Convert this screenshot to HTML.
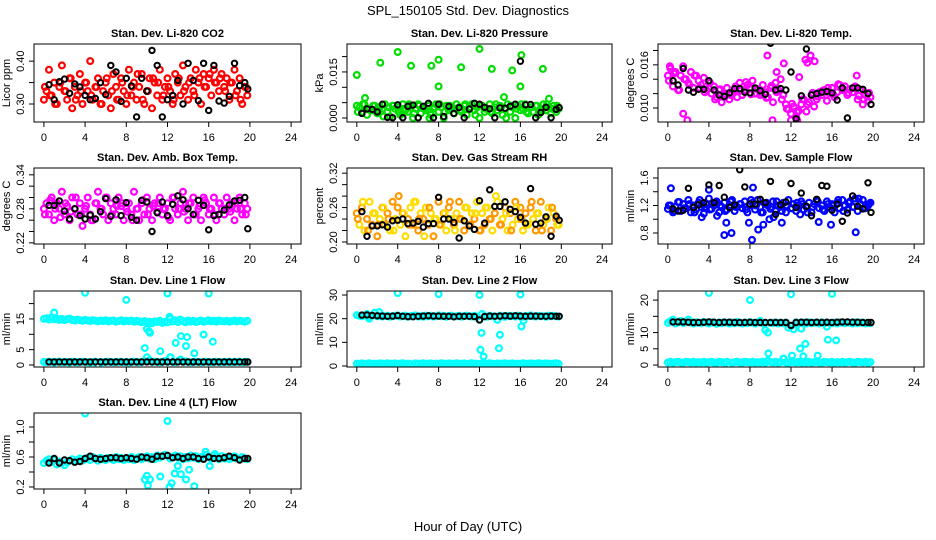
<!DOCTYPE html>
<html><head><meta charset="utf-8"><style>
html,body{margin:0;padding:0;background:#fff;}
svg{display:block;font-family:"Liberation Sans",sans-serif;}
</style></head><body>
<svg id="chart" width="936" height="540" viewBox="0 0 936 540">
<text x="468" y="15" text-anchor="middle" font-size="13">SPL_150105  Std. Dev. Diagnostics</text>
<text x="468" y="531" text-anchor="middle" font-size="13">Hour of Day (UTC)</text>
</svg>
<script>
const xTicks = [0,4,8,12,16,20,24];
const hC = [0,0.25,0.5,0.75,1,1.25,1.5,1.75,2,2.25,2.5,2.75,3,3.25,3.5,3.75,4,4.25,4.5,4.75,5,5.25,5.5,5.75,6,6.25,6.5,6.75,7,7.25,7.5,7.75,8,8.25,8.5,8.75,9,9.25,9.5,9.75,10,10.25,10.5,10.75,11,11.25,11.5,11.75,12,12.25,12.5,12.75,13,13.25,13.5,13.75,14,14.25,14.5,14.75,15,15.25,15.5,15.75,16,16.25,16.5,16.75,17,17.25,17.5,17.75,18,18.25,18.5,18.75,19,19.25,19.5,19.75];
const hC2 = [0.1,0.6,1.1,1.6,2.1,2.6,3.1,3.6,4.1,4.6,5.1,5.6,6.1,6.6,7.1,7.6,8.1,8.6,9.1,9.6,10.1,10.6,11.1,11.6,12.1,12.6,13.1,13.6,14.1,14.6,15.1,15.6,16.1,16.6,17.1,17.6,18.1,18.6,19.1,19.6];
const hB = [0.5,1,1.5,2,2.5,3,3.5,4,4.5,5,5.5,6,6.5,7,7.5,8,8.5,9,9.5,10,10.5,11,11.5,12,12.5,13,13.5,14,14.5,15,15.5,16,16.5,17,17.5,18,18.5,19,19.5,19.8];

const co2Col = [0.31,0.33,0.38,0.32,0.35,0.30,0.34,0.39,0.33,0.31,0.36,0.29,0.34,0.32,0.37,0.30,0.35,0.33,0.40,0.31,0.34,0.36,0.30,0.33,0.35,0.32,0.29,0.37,0.34,0.31,0.36,0.33,0.30,0.38,0.32,0.35,0.31,0.34,0.37,0.30,0.33,0.36,0.29,0.35,0.32,0.38,0.31,0.34,0.36,0.33,0.30,0.37,0.35,0.32,0.39,0.34,0.31,0.36,0.33,0.38,0.35,0.30,0.37,0.34,0.36,0.32,0.38,0.35,0.33,0.37,0.34,0.36,0.31,0.35,0.38,0.33,0.36,0.30,0.34,0.32];
const co2Col2 = [0.34,0.32,0.30,0.35,0.33,0.36,0.31,0.33,0.35,0.32,0.34,0.30,0.36,0.33,0.31,0.35,0.32,0.34,0.37,0.31,0.33,0.36,0.35,0.32,0.34,0.31,0.36,0.33,0.35,0.32,0.36,0.34,0.37,0.35,0.36,0.33,0.35,0.32,0.31,0.34];
const co2Blk = [0.345,0.31,0.352,0.358,0.325,0.347,0.34,0.32,0.31,0.313,0.35,0.322,0.39,0.375,0.306,0.36,0.342,0.27,0.36,0.33,0.425,0.39,0.27,0.31,0.32,0.355,0.30,0.395,0.355,0.308,0.395,0.285,0.39,0.307,0.302,0.318,0.395,0.343,0.35,0.335];

const prCol = [0.004,0.0035,0.002,0.0045,0.001,0.003,0.0025,0.004,0.0015,0.0035,0.003,0.0045,0.002,0.0005,0.004,0.003,0.0035,0.001,0.0045,0.0025,0.002,0.004,0.0,0.003,0.0045,0.0015,0.0035,0.0025,0.004,0.001,0.003,0.0045,0.002,0.0035,0.0,0.004,0.0025,0.003,0.0015,0.0045,0.0035,0.002,0.004,0.001,0.003,0.0045,0.0025,0.0035,0.0,0.004,0.002,0.003,0.0045,0.0015,0.0035,0.0025,0.004,0.001,0.003,0.0045,0.002,0.0035,0.0,0.004,0.0025,0.003,0.0045,0.0015,0.0035,0.002,0.004,0.001,0.003,0.0045,0.0025,0.0035,0.0015,0.004,0.002,0.003];
const prCol2 = [0.002,0.0045,0.003,0.004,0.0025,0.0005,0.0035,0.004,0.002,0.003,0.0045,0.0015,0.004,0.003,0.0,0.0035,0.0045,0.002,0.004,0.003,0.0025,0.0045,0.0035,0.001,0.004,0.003,0.002,0.0045,0.0035,0.0,0.004,0.003,0.0045,0.002,0.0035,0.004,0.0025,0.0045,0.003,0.004];
const prOutX = [0,2.3,4,5.3,7.3,8,10.2,12,13.2,15.2,16.1,18.2,16,8,0.8,14.4,18.8];
const prOutY = [0.014,0.018,0.0215,0.017,0.017,0.019,0.0165,0.0225,0.016,0.0155,0.0205,0.016,0.0103,0.0103,0.0065,0.0068,0.0063];
const prBlk = [0.0015,0.003,0.0028,0.002,0.0045,0.0002,0.0001,0.0043,0.0001,0.0038,0.0042,0.0001,0.0038,0.0048,0.0001,0.0045,0.0005,0.0038,0.0015,0.0034,0.0001,0.0029,0.0048,0.0045,0.0035,0.003,0.0001,0.0033,0.0032,0.0038,0.0045,0.0185,0.0043,0.0044,0.0001,0.0018,0.0035,0.0001,0.0028,0.0034];

const tpCol = [0.0145,0.0155,0.013,0.015,0.0125,0.0145,0.0158,0.014,0.0135,0.015,0.0128,0.0145,0.0138,0.0132,0.0142,0.0125,0.0135,0.012,0.013,0.0115,0.0125,0.0108,0.0118,0.0128,0.0112,0.012,0.0125,0.0115,0.0135,0.0118,0.0125,0.0132,0.0128,0.0138,0.012,0.0126,0.0118,0.0132,0.0122,0.0115,0.0128,0.0108,0.0135,0.0125,0.014,0.0118,0.0105,0.0098,0.0092,0.0102,0.0088,0.0096,0.0105,0.0112,0.0095,0.0108,0.0118,0.0102,0.0112,0.0122,0.0118,0.0125,0.011,0.012,0.0128,0.0115,0.0122,0.0132,0.0125,0.013,0.0118,0.0126,0.0122,0.013,0.0112,0.0125,0.0105,0.0118,0.011,0.0115];
const tpCol2 = [0.0138,0.0148,0.0125,0.014,0.0132,0.0145,0.0128,0.0122,0.0135,0.0112,0.0126,0.012,0.0118,0.013,0.0124,0.0136,0.0119,0.0127,0.0121,0.0114,0.0131,0.0122,0.0112,0.0099,0.0106,0.0094,0.0112,0.0105,0.0121,0.0116,0.0124,0.0128,0.0119,0.0133,0.0126,0.0121,0.0128,0.0117,0.0112,0.0121];
const tpOutX = [1.9,9.7,10.2,12,12.6,13.4,13.6,13.9,14.3,11.3,0.2,1.5,10.6,12.8,18.4];
const tpOutY = [0.0083,0.0173,0.0083,0.0083,0.0083,0.0167,0.0163,0.0173,0.0165,0.0162,0.0158,0.0092,0.015,0.0143,0.0145];
const tpBlk = [0.0138,0.0132,0.0155,0.0125,0.0122,0.0126,0.0126,0.0138,0.0125,0.0118,0.0116,0.0121,0.0127,0.0127,0.0122,0.0121,0.0128,0.0124,0.0119,0.019,0.0125,0.0127,0.0125,0.015,0.0085,0.0117,0.0182,0.0118,0.012,0.0122,0.0123,0.0121,0.0111,0.0128,0.0086,0.0128,0.0128,0.0126,0.012,0.0105];

const abCol = [0.28,0.29,0.27,0.30,0.26,0.29,0.28,0.31,0.27,0.285,0.26,0.30,0.28,0.27,0.29,0.25,0.28,0.30,0.27,0.26,0.29,0.31,0.28,0.27,0.30,0.26,0.29,0.28,0.27,0.30,0.285,0.26,0.28,0.29,0.27,0.31,0.28,0.26,0.29,0.27,0.30,0.28,0.26,0.29,0.275,0.30,0.27,0.28,0.29,0.26,0.30,0.28,0.27,0.29,0.31,0.28,0.26,0.29,0.30,0.27,0.28,0.26,0.30,0.29,0.27,0.28,0.30,0.26,0.29,0.28,0.27,0.30,0.28,0.29,0.26,0.28,0.30,0.27,0.29,0.28];
const abCol2 = [0.27,0.295,0.28,0.265,0.29,0.275,0.30,0.27,0.285,0.26,0.29,0.28,0.30,0.27,0.285,0.29,0.275,0.26,0.28,0.295,0.27,0.285,0.29,0.28,0.265,0.30,0.28,0.275,0.29,0.27,0.285,0.295,0.28,0.27,0.29,0.28,0.275,0.29,0.28,0.27];
const abBlk = [0.286,0.286,0.294,0.276,0.262,0.28,0.268,0.262,0.269,0.262,0.275,0.298,0.267,0.296,0.268,0.291,0.265,0.26,0.295,0.292,0.24,0.273,0.292,0.268,0.288,0.303,0.296,0.28,0.27,0.295,0.286,0.243,0.268,0.27,0.278,0.287,0.294,0.295,0.3,0.245];

const rhCol = [0.25,0.23,0.26,0.22,0.24,0.27,0.23,0.25,0.21,0.24,0.26,0.23,0.25,0.22,0.27,0.24,0.26,0.23,0.25,0.21,0.24,0.26,0.23,0.27,0.22,0.25,0.24,0.26,0.23,0.25,0.21,0.24,0.27,0.23,0.25,0.22,0.26,0.24,0.23,0.25,0.27,0.24,0.22,0.26,0.23,0.25,0.24,0.27,0.22,0.25,0.23,0.26,0.24,0.22,0.25,0.27,0.23,0.24,0.26,0.22,0.25,0.23,0.27,0.24,0.26,0.22,0.25,0.23,0.26,0.24,0.22,0.25,0.27,0.23,0.24,0.26,0.22,0.25,0.24,0.23];
const rhCol2 = [0.24,0.27,0.22,0.25,0.23,0.26,0.24,0.22,0.28,0.25,0.23,0.27,0.24,0.21,0.26,0.24,0.23,0.25,0.27,0.22,0.24,0.26,0.23,0.25,0.22,0.26,0.24,0.28,0.23,0.25,0.22,0.26,0.24,0.23,0.27,0.25,0.22,0.24,0.26,0.23];
const rhBlk = [0.253,0.21,0.228,0.228,0.23,0.226,0.237,0.238,0.24,0.232,0.233,0.236,0.226,0.232,0.232,0.278,0.24,0.24,0.234,0.207,0.237,0.228,0.222,0.272,0.233,0.291,0.262,0.262,0.27,0.257,0.253,0.243,0.233,0.293,0.231,0.233,0.244,0.21,0.245,0.238];

const sfCol = [1.15,1.2,1.1,1.18,1.25,1.12,1.22,1.16,1.28,1.1,1.2,1.14,1.24,1.18,1.08,1.22,1.3,1.15,1.2,1.26,1.1,1.18,1.24,1.14,1.2,1.28,1.12,1.18,1.22,1.16,1.26,1.1,1.2,1.24,1.14,1.28,1.18,1.1,1.22,1.2,1.15,1.26,1.12,1.2,1.18,1.24,1.1,1.28,1.16,1.22,1.12,1.2,1.26,1.14,1.18,1.24,1.1,1.22,1.28,1.16,1.2,1.12,1.26,1.18,1.22,1.1,1.24,1.16,1.28,1.2,1.14,1.26,1.18,1.3,1.12,1.22,1.28,1.16,1.2,1.24];
const sfCol2 = [1.2,1.12,1.25,1.16,1.22,1.1,1.28,1.18,1.14,1.24,1.2,1.12,1.26,1.18,1.22,1.14,1.28,1.2,1.1,1.24,1.18,1.26,1.12,1.2,1.16,1.24,1.22,1.1,1.18,1.26,1.14,1.22,1.2,1.28,1.12,1.24,1.18,1.3,1.16,1.22];
const sfOutX = [0.3,4,5.5,5.7,6.2,7.9,8.2,8.3,8.8,9.3,9.9,10.3,11.1,12.9,14.7,15.9,18.3,4.8,3.3];
const sfOutY = [1.45,1.43,0.77,0.95,0.8,0.95,0.7,1.46,0.85,0.92,1.0,1.03,0.95,1.07,0.96,0.92,0.81,1.05,1.03];
const sfBlk = [1.15,1.12,1.13,1.45,1.17,1.21,1.24,1.5,1.24,1.49,1.32,1.17,1.21,1.72,1.47,1.22,1.22,1.29,1.24,1.55,1.07,1.21,1.25,1.52,1.17,1.38,1.19,1.05,1.29,1.49,1.48,1.13,1.22,0.97,1.09,1.34,1.19,1.15,1.53,1.1];

const l1Band = [15,15.2,14.8,15.5,14.9,15.1,14.7,15,14.6,14.9,15.1,14.7,14.5,14.8,14.6,14.4,14.7,14.5,14.3,14.6,14.4,14.2,14.5,14.3,14.6,14.2,14.4,14.5,14.1,14.3,14.6,14.2,14.4,14.3,14.5,14.1,14.4,14.2,13.9,14.3,13.8,14.1,13.6,14.2,14,14.4,13.7,14.1,13.9,15,14.2,14.6,14,14.8,14.3,13.9,14.5,14.1,14.4,14,14.2,14.5,14.1,14.3,14.6,14.2,14.4,14.1,14.5,14.3,14.2,14.4,14.1,14.3,14.5,14.2,14.4,14.3,14.1,14.4];
const l1Low = [1,0.9,1.1,1,0.8,1,1.1,0.9,1,1,0.8,1.1,1,0.9,1,1.1,1,0.9,0.8,1,1.1,0,1,0.9,1,1.1,1,0.9,1,1,1.1,0.9,1,0.8,1,1.1,1,0.9,1,1.2,2.5,1.5,1,1.1,1,0.9,1,1.3,1,2.5,1,0.9,1.1,1.8,1,1.2,1,0.9,1,1.1,1,0.9,1,1.1,1,0.9,1,1.1,1,0.9,1,1,1.1,0.9,1,1,1.1,0.9,1,1];
const l1OutX = [4,8,12,16,1,9.8,10,10.2,10.3,11.3,12.2,12.8,13.3,13.8,13.9,14.6,15.5,16.4,12.3];
const l1OutY = [23.5,21.2,23.3,23.3,17.1,5.5,11.8,11,10.5,4.5,15.7,7.2,9.4,6.2,9.1,3.8,9.9,7.6,2.5];
const l1Blk = [1,1,1,1,1,1,1,1,1,1,1,1,1,1,1,1,1,1,1,1,1,1,1,1,1,1,1,1,1,1,1,1,1,1,1,1,1,1,1,1];

const l2Band = [21.5,21.2,21,21.4,22,20.8,21.3,22.5,21,21.2,20.9,21.1,21.3,20.8,21,21.2,21.4,20.9,21.1,21.3,20.8,21,21.2,21.4,20.9,21.1,20.8,21.3,21,21.2,20.9,21.1,21.4,21,21.2,20.8,21.1,21.3,20.9,21,21.2,20.8,21.1,21.3,21,20.9,21.2,20.8,19.5,22,21,20.8,21.2,21,20.9,19.5,21.3,21,20.8,21.2,21,21.1,20.9,21.3,21,20.8,21.2,21.1,21.4,21,20.9,21.2,21,21.1,20.8,21.3,21,21.2,21,20.9];
const l2Low = [1,0.8,1.1,0.9,1,1.2,0.8,1,0.9,1.1,1,0.8,1.2,0.9,1,1.1,0.8,1,1.2,0.9,1,0.8,0,1.1,0.9,1,1.2,0.8,1,1.1,0.9,1,0.8,1.2,1,0.9,1.1,1,0.8,1.2,1,0.9,1.1,0.8,1,1.2,0.9,1,0.8,1.1,1,0.9,1.2,1,0.8,1.1,0.9,1,1.2,0.8,1,1.1,0.9,1,0.8,1.2,1,0.9,1.1,1,0.8,1.2,1,0.9,1.1,1,0.8,1,1.2,0.9];
const l2OutX = [4,8,12,16,12.1,12.2,12.4,13.9,14,16.1,16.3,2.2,1.2];
const l2OutY = [30.8,30.4,30,30.2,6.8,14,4,7.5,13.2,16.7,19.2,22.8,20];
const l2Blk = [21.5,21.6,21.4,21.2,21.1,21,21.1,21.3,21,20.9,20.8,21,21.1,21.2,21.1,21.1,21,21,20.8,21,21,21,20.9,19.5,20.9,21.1,21,21.1,21.2,21.1,21.2,21.1,21,21.1,21.1,21,21,21.1,21,21];

const l3Band = [13,13.5,14,12.8,13.2,13.6,12.9,13.3,14,13.1,12.8,13.2,13,12.9,13.3,13.1,12.8,13.2,13,12.7,13.1,12.9,13.2,13,12.8,13.1,12.9,13.3,13,12.8,13.1,12.9,13.2,13,12.8,13.1,13.6,12.9,10.8,10,13,12.9,13.2,12.8,13,12.9,13.1,11.5,12,11,13.2,12.9,11.2,13.1,12.8,13.2,12.9,13,13.1,12.8,13.2,12.9,11.8,13,12.9,13.1,12.8,13.2,13,12.9,13.1,13,12.8,13.2,12.9,13,13.1,12.8,13,12.9];
const l3Low = [0.8,1,0.7,0.9,1,0.8,0.7,1,0.9,0.8,1,0.7,0.9,0.8,1,0.7,0.9,1,0.8,0.7,1,0.9,0.8,1,0,0.7,0.9,1,0.8,0.7,1,0.9,0.8,1,0.7,0.9,0.8,1,0.7,1.3,0.9,0.8,1,0.7,0.9,2,0.8,0.7,1,0.9,0.8,1,0.7,0.9,0.8,1,0.7,0.9,1,0.8,0.7,1,0.9,0.8,1,0.7,0.9,0.8,1,0.7,0.9,1,0.8,0.7,1,0.9,0.8,1,0.7,0.9];
const l3OutX = [4,8,12,16,9.8,12.1,12.9,13.2,13.4,15.6,16.4,14.6,11.3];
const l3OutY = [22.2,20,21.8,21.9,3.6,2.9,5.1,2.7,6.5,7.8,7.6,2.9,2];
const l3Blk = [13.3,13.3,13.3,13.2,13.1,13.1,13.2,13.3,13.2,13.1,13.2,13.2,13.1,13.1,13.1,13.2,13.1,13.1,13.1,13.1,13.1,13.1,13.1,12.2,13.1,13.2,13.2,13.1,13.2,13.1,13.2,13.1,13.2,13.3,13.3,13.2,13.2,13.1,13.1,13.1];

const l4Band = [0.52,0.55,0.57,0.53,0.56,0.5,0.54,0.52,0.49,0.53,0.55,0.57,0.54,0.56,0.58,0.55,0.57,0.59,0.56,0.6,0.58,0.55,0.59,0.57,0.56,0.59,0.58,0.56,0.6,0.57,0.59,0.56,0.58,0.57,0.6,0.56,0.58,0.6,0.57,0.59,0.61,0.58,0.6,0.57,0.62,0.59,0.61,0.63,0.62,0.58,0.6,0.62,0.59,0.61,0.57,0.6,0.58,0.62,0.59,0.61,0.57,0.6,0.58,0.63,0.6,0.58,0.62,0.59,0.57,0.61,0.58,0.6,0.57,0.59,0.61,0.58,0.57,0.6,0.58,0.57];
const l4OutX = [4,12,9.8,10,10.1,10.3,11.3,12.2,12.4,12.7,13,13.3,13.8,14.1,14.6,16.1,15.7,16.6];
const l4OutY = [1.18,1.08,0.3,0.35,0.22,0.3,0.34,0.2,0.25,0.38,0.48,0.37,0.3,0.43,0.21,0.48,0.67,0.64];
const l4Blk = [0.52,0.58,0.52,0.56,0.55,0.53,0.54,0.58,0.61,0.58,0.57,0.58,0.59,0.59,0.58,0.59,0.58,0.57,0.6,0.59,0.57,0.61,0.61,0.62,0.59,0.6,0.58,0.6,0.6,0.58,0.57,0.6,0.58,0.58,0.59,0.61,0.59,0.56,0.58,0.58];

const colL=[34,347,658], colR=[301,612,924], rowT=[44,168,291,413], rowB=[122,244,367,489];
const panels = [
 {t:"Stan. Dev. Li-820 CO2", yl:"Licor ppm", c:0,r:0, y0:0.258,y1:0.44, ticks:[0.30,0.35,0.40], lab:["0.30","","0.40"], col:"#ff0000", sets:[[hC,co2Col],[hC2,co2Col2]], blk:co2Blk},
 {t:"Stan. Dev. Li-820 Pressure", yl:"kPa", c:1,r:0, y0:-0.0013,y1:0.0241, ticks:[0,0.005,0.01,0.015,0.02], lab:["0.000","","","0.015",""], col:"#00dd00", sets:[[hC,prCol],[hC2,prCol2],[prOutX,prOutY]], blk:prBlk},
 {t:"Stan. Dev. Li-820 Temp.", yl:"degrees C", c:2,r:0, y0:0.00805,y1:0.0189, ticks:[0.01,0.012,0.014,0.016,0.018], lab:["0.010","","","0.016",""], col:"#ff00ff", sets:[[hC,tpCol],[hC2,tpCol2],[tpOutX,tpOutY]], blk:tpBlk},
 {t:"Stan. Dev. Amb. Box Temp.", yl:"degrees C", c:0,r:1, y0:0.218,y1:0.352, ticks:[0.22,0.24,0.26,0.28,0.30,0.32,0.34], lab:["0.22","","","0.28","","","0.34"], col:"#ff00ff", sets:[[hC,abCol],[hC2,abCol2]], blk:abBlk},
 {t:"Stan. Dev. Gas Stream RH", yl:"percent", c:1,r:1, y0:0.1965,y1:0.329, ticks:[0.20,0.22,0.24,0.26,0.28,0.30,0.32], lab:["0.20","","","0.26","","","0.32"], col:"#ff9900", col2:"#ffdd00", sets:[[hC,rhCol],[hC2,rhCol2]], blk:rhBlk},
 {t:"Stan. Dev. Sample Flow", yl:"ml/min", c:2,r:1, y0:0.64,y1:1.745, ticks:[0.8,1.0,1.2,1.4,1.6], lab:["0.8","","1.2","","1.6"], col:"#0000ff", sets:[[hC,sfCol],[hC2,sfCol2],[sfOutX,sfOutY]], blk:sfBlk},
 {t:"Stan. Dev. Line 1 Flow", yl:"ml/min", c:0,r:2, y0:-0.65,y1:24.1, ticks:[0,5,10,15,20], lab:["0","5","","15",""], col:"#00ffff", sets:[[hC,l1Band],[hC,l1Low],[l1OutX,l1OutY]], blk:l1Blk},
 {t:"Stan. Dev. Line 2 Flow", yl:"ml/min", c:1,r:2, y0:-0.42,y1:31.7, ticks:[0,10,20,30], lab:["0","10","20","30"], col:"#00ffff", sets:[[hC,l2Band],[hC,l2Low],[l2OutX,l2OutY]], blk:l2Blk},
 {t:"Stan. Dev. Line 3 Flow", yl:"ml/min", c:2,r:2, y0:-0.6,y1:22.8, ticks:[0,5,10,15,20], lab:["0","5","10","","20"], col:"#00ffff", sets:[[hC,l3Band],[hC,l3Low],[l3OutX,l3OutY]], blk:l3Blk},
 {t:"Stan. Dev. Line 4 (LT) Flow", yl:"ml/min", c:0,r:3, y0:0.173,y1:1.187, ticks:[0.2,0.4,0.6,0.8,1.0], lab:["0.2","","0.6","","1.0"], col:"#00ffff", sets:[[hC,l4Band],[l4OutX,l4OutY]], blk:l4Blk}
];
const NS="http://www.w3.org/2000/svg";
const svg=document.getElementById('chart');
function mk(tag,attrs,parent){const e=document.createElementNS(NS,tag);for(const k in attrs)e.setAttribute(k,attrs[k]);parent.appendChild(e);return e;}
panels.forEach((p,pi)=>{
 const L=colL[p.c],R=colR[p.c],T=rowT[p.r],B=rowB[p.r];
 const xs=h=>L+(h+0.96)/25.92*(R-L);
 const ys=v=>B-(v-p.y0)/(p.y1-p.y0)*(B-T);
 const g=mk('g',{},svg);
 
 
 const cp=mk('clipPath',{id:'cp'+pi},g);
 mk('rect',{x:L,y:T,width:R-L,height:B-T},cp);
 const pts=mk('g',{'clip-path':'url(#cp'+pi+')'},g);
 
 
 p.sets.forEach((s,si)=>{
  const n=Math.min(s[0].length,s[1].length);
  for(let i=0;i<n;i++){
   const c=mk('circle',{cx:xs(s[0][i]).toFixed(1),cy:ys(s[1][i]).toFixed(1),r:2.9,fill:'none',stroke:(p.col2&&i%2)?p.col2:p.col,'stroke-width':2.2},pts);
   
   
  }
 });
 const n=Math.min(hB.length,p.blk.length);
 for(let i=0;i<n;i++){
  const c=mk('circle',{cx:xs(hB[i]).toFixed(1),cy:ys(p.blk[i]).toFixed(1),r:2.7,fill:'none',stroke:'#000','stroke-width':2},pts);
  
  
 }
 const box=mk('rect',{x:L,y:T,width:R-L,height:B-T,fill:'none',stroke:'#000','stroke-width':1},g);
 
 
 const tt=mk('text',{x:(L+R)/2,y:T-7,'text-anchor':'middle','font-size':11,'font-weight':'bold'},g);
 tt.textContent=p.t;
 
 
 xTicks.forEach(v=>{
  const x=xs(v);
  mk('line',{x1:x,x2:x,y1:B,y2:B+5,stroke:'#000'},g);
  const t=mk('text',{x:x,y:B+19,'text-anchor':'middle','font-size':11},g);
  t.textContent=v;
  
  
 });
 p.ticks.forEach((v,i)=>{
  const y=ys(v);
  mk('line',{x1:L-5,x2:L,y1:y,y2:y,stroke:'#000'},g);
  if(p.lab[i]){
   const t=mk('text',{x:L-10,y:y,'text-anchor':'middle','font-size':11,transform:'rotate(-90 '+(L-10)+' '+y+')'},g);
   t.textContent=p.lab[i];
   
   
  }
 });
 const yc=(T+B)/2, yx=L-24;
 const yt=mk('text',{x:yx,y:yc,'text-anchor':'middle','font-size':11,transform:'rotate(-90 '+yx+' '+yc+')'},g);
 yt.textContent=p.yl;
 
 
});
</script>
</body></html>
